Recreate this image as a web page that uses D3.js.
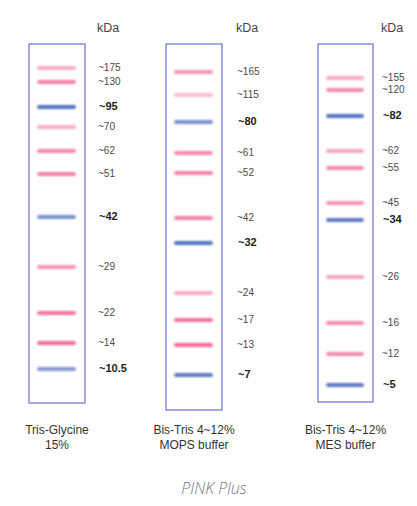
<!DOCTYPE html>
<html>
<head>
<meta charset="utf-8">
<script src="https://cdn.jsdelivr.net/npm/d3@7"></script>
<style>
  body { margin: 0; background: #fff; }
  svg { display: block; }
</style>
</head>
<body>
<div id="chart"></div>
<script>
// dades de cada carril (posicio = distancia de migracio llegida de la imatge)
const etiquetes1 = ["~175", "~130", "~95", "~70", "~62", "~51", "~42", "~29", "~22", "~14", "~10.5"];
const posicions1 = [25, 39, 64, 84, 108, 131, 174, 224, 270, 300, 326];
const tipus1 = ["p", "p", "b", "p", "p", "p", "b", "p", "p", "p", "b"];
const intensitat1 = [0.5, 0.75, 0.9, 0.5, 0.7, 0.75, 0.7, 0.65, 0.85, 0.9, 0.65];

const etiquetes2 = ["~165", "~115", "~80", "~61", "~52", "~42", "~32", "~24", "~17", "~13", "~7"];
const posicions2 = [29, 52, 79, 110, 130, 175, 200, 250, 277, 302, 332];
const tipus2 = ["p", "p", "b", "p", "p", "p", "b", "p", "p", "p", "b"];
const intensitat2 = [0.65, 0.4, 0.7, 0.7, 0.75, 0.75, 0.9, 0.5, 0.85, 0.9, 0.85];

const etiquetes3 = ["~155", "~120", "~82", "~62", "~55", "~45", "~34", "~26", "~16", "~12", "~5"];
const posicions3 = [35, 47, 73, 108, 125, 160, 177, 234, 280, 311, 342];
const tipus3 = ["p", "p", "b", "p", "p", "p", "b", "p", "p", "p", "b"];
const intensitat3 = [0.5, 0.7, 0.9, 0.55, 0.7, 0.65, 0.85, 0.55, 0.7, 0.7, 0.85];

const titolsCarril = [["Tris-Glycine", "15%"], ["Bis-Tris 4~12%", "MOPS buffer"], ["Bis-Tris 4~12%", "MES buffer"]];
const titol = "PINK Plus";

const width = 417, height = 506;

const svg = d3.select("#chart")
    .append("svg")
        .attr("width", width)
        .attr("height", height);

// difuminat per als bands
svg.append("defs").append("filter")
    .attr("id", "blur")
    .attr("x", "-10%").attr("y", "-150%")
    .attr("width", "120%").attr("height", "400%")
    .append("feGaussianBlur")
    .attr("stdDeviation", 0.9);

// escala vertical comuna
const y = d3.scaleLinear().domain([0, 360]).range([43, 403]);

const lanes = [
    { etiquetes: etiquetes1, posicions: posicions1, tipus: tipus1, intensitat: intensitat1, x0: 29, x1: 85, bottom: 360, labelX: 98 },
    { etiquetes: etiquetes2, posicions: posicions2, tipus: tipus2, intensitat: intensitat2, x0: 166, x1: 222, bottom: 367, labelX: 237 },
    { etiquetes: etiquetes3, posicions: posicions3, tipus: tipus3, intensitat: intensitat3, x0: 318, x1: 373, bottom: 359, labelX: 382 }
];

const colorBand = { p: "#ee5a88", b: "#4262b8" };

lanes.forEach(function(lane, i) {
    const g = svg.append("g");

    // caixa del carril
    g.append("rect")
        .attr("x", lane.x0)
        .attr("y", y(1))
        .attr("width", lane.x1 - lane.x0)
        .attr("height", y(lane.bottom) - y(1))
        .attr("fill", "none")
        .attr("stroke", "#8085cc")
        .attr("stroke-width", 1.4);

    const bands = lane.posicions.map((p, j) => ({
        pos: p, etiqueta: lane.etiquetes[j], tipus: lane.tipus[j], op: lane.intensitat[j]
    }));

    g.selectAll(".band")
        .data(bands)
        .enter()
        .append("rect")
            .attr("class", "band")
            .attr("x", lane.x0 + 8)
            .attr("y", d => y(d.pos) - 2)
            .attr("width", lane.x1 - lane.x0 - 17)
            .attr("height", 4)
            .attr("rx", 2)
            .attr("fill", d => colorBand[d.tipus])
            .attr("opacity", d => d.op)
            .attr("filter", "url(#blur)");

    g.selectAll(".label-band")
        .data(bands)
        .enter()
        .append("text")
            .attr("class", "label-band")
            .attr("x", d => lane.labelX + (d.tipus === "b" ? 1 : 0))
            .attr("y", d => y(d.pos))
            .attr("dominant-baseline", "middle")
            .style("font-family", "Liberation Sans, Arial, sans-serif")
            .style("font-size", d => d.tipus === "b" ? "11px" : "10px")
            .style("font-weight", d => d.tipus === "b" ? "bold" : "normal")
            .style("fill", d => d.tipus === "b" ? "#222" : "#4a4a4a")
            .text(d => d.etiqueta);

    g.append("text")
        .attr("x", lane.labelX - 1)
        .attr("y", 32)
        .style("font-family", "Liberation Sans, Arial, sans-serif")
        .style("font-size", "12.5px")
        .style("fill", "#444")
        .text("kDa");

    // titol sota el carril
    const cx = (lane.x0 + lane.x1) / 2;
    titolsCarril[i].forEach(function(t, k) {
        g.append("text")
            .attr("x", cx)
            .attr("y", 434 + k * 15)
            .attr("text-anchor", "middle")
            .style("font-family", "Liberation Sans, Arial, sans-serif")
            .style("font-size", "12px")
            .style("fill", "#333")
            .text(t);
    });
});

svg.append("text")
    .attr("x", 214)
    .attr("y", 494)
    .attr("text-anchor", "middle")
    .style("font-family", "Open Sans, sans-serif")
    .style("font-style", "italic")
    .style("font-weight", 300)
    .style("font-size", "16px")
    .style("fill", "#777")
    .text(titol);
</script>
</body>
</html>
